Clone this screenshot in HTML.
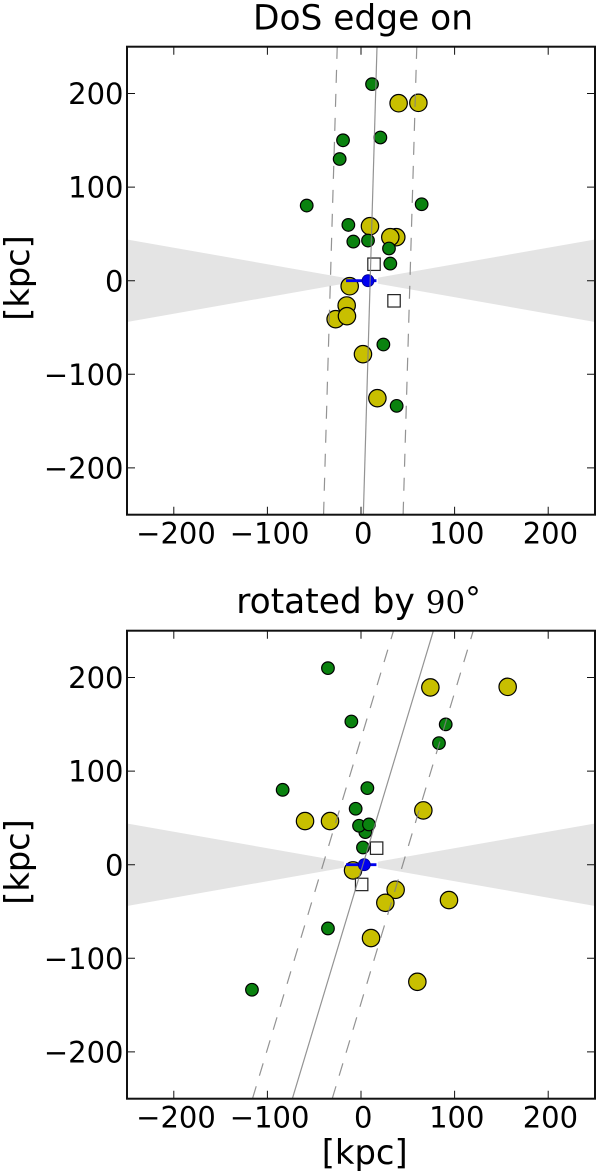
<!DOCTYPE html>
<html>
<head>
<meta charset="utf-8">
<title>DoS edge on</title>
<style>
html,body{margin:0;padding:0;background:#fff;width:600px;height:1173px;overflow:hidden}
svg{display:block}
text{font-family:"DejaVu Sans","Liberation Sans",sans-serif;fill:#000}
</style>
</head>
<body>
<svg id="chart" xmlns="http://www.w3.org/2000/svg" width="600" height="1173" viewBox="0 0 600 1173">
  <text x="363" y="29.3" font-size="34.4" text-anchor="middle">DoS edge on</text>
  <text transform="translate(29,278) rotate(-90)" font-size="33.6" text-anchor="middle">[kpc]</text>
  <text x="358.5" y="613" font-size="34.4" text-anchor="middle">rotated by <tspan font-family="'DejaVu Serif','Liberation Serif',serif" font-size="31">90</tspan><tspan font-size="31" dy="-4">°</tspan></text>
  <text transform="translate(29,862) rotate(-90)" font-size="33.6" text-anchor="middle">[kpc]</text>
  <text x="364.7" y="1164" font-size="33.8" text-anchor="middle">[kpc]</text>
</svg>
<script>
var tickValues = [-200, -100, 0, 100, 200];
var tickLabels = ["\u2212200", "\u2212100", "0", "100", "200"];
var axisRange = [-250, 250];
var wedgeAngleDeg = 10;
var wedgeInnerX = 18;

var topGreenX = [11.8, -19.2, 20.7, -22.8, -58, 64.8, -13.5, 29.9, -8.2, 7.5, 31.3, 23.9, 38.1];
var topGreenY = [210, 150, 153, 130, 80.3, 81.7, 59.6, 34.4, 41.8, 42.9, 18.3, -68.2, -133.7];
var topYellowX = [40.2, 61.3, 37.7, 31.3, 9.6, -12.1, -15.3, -27.1, -15, 2.1, 17.5];
var topYellowY = [189.6, 190, 46.5, 46.5, 58.2, -5.9, -26.5, -41.1, -37.9, -78.5, -125.5];
var topSquareX = [13.9, 35.3];
var topSquareY = [17.6, -21.5];
var topHostX = [7.5];
var topHostY = [0];
var topPlaneOffset = [9.8];
var topPlaneSlope = [0.0292];
var topPlaneHalfWidth = [42.5];

var bottomGreenX = [-35.3, -10.3, 90.5, 83.3, -83.7, 6.8, -5.7, 4.6, -2.1, 8.5, 2.1, -35.3, -116.5];
var bottomGreenY = [210, 153, 149.9, 129.9, 80, 81.8, 59.8, 34.8, 41.6, 43, 18.4, -68.1, -133.6];
var bottomYellowX = [74.1, 156.7, -59.8, -33.1, 66.6, -8.5, 37, 26, 94, 10.7, 60.2];
var bottomYellowY = [189.4, 190, 46.6, 46.6, 58, -6.1, -26.8, -40.7, -37.8, -78.4, -125.1];
var bottomSquareX = [16.7, 0.7];
var bottomSquareY = [17.7, -21.1];
var bottomHostX = [3.5];
var bottomHostY = [0];
var bottomPlaneOffset = [2];
var bottomPlaneSlope = [0.3014];
var bottomPlaneHalfWidth = [42.6];

var hostBarX = [-16, 16.5];

var svg = document.getElementById('chart');
var NS = 'http://www.w3.org/2000/svg';

function make(parent, tag, attrs) {
  var el = document.createElementNS(NS, tag);
  for (var k in attrs) { el.setAttribute(k, attrs[k]); }
  parent.appendChild(el);
  return el;
}

function drawPanel(prefix, top, d) {
  var left = 127, size = 468;
  var span = axisRange[1] - axisRange[0];
  function sx(v) { return left + (v - axisRange[0]) / span * size; }
  function sy(v) { return top + (axisRange[1] - v) / span * size; }

  var g = make(svg, 'g', {});
  
  

  var clipId = prefix + '-clip';
  var defs = make(g, 'defs', {});
  var clip = make(defs, 'clipPath', { id: clipId });
  make(clip, 'rect', { x: left, y: top, width: size, height: size });

  var plot = make(g, 'g', { 'clip-path': 'url(#' + clipId + ')' });
  
  

  var tanW = Math.tan(wedgeAngleDeg * Math.PI / 180);
  [-1, 1].forEach(function (side) {
    var edge = side < 0 ? axisRange[0] : axisRange[1];
    var inner = side * wedgeInnerX;
    var pts = [
      [sx(inner), sy(wedgeInnerX * tanW)],
      [sx(edge), sy(Math.abs(edge) * tanW)],
      [sx(edge), sy(-Math.abs(edge) * tanW)],
      [sx(inner), sy(-wedgeInnerX * tanW)]
    ].map(function (p) { return p.join(','); }).join(' ');
    var w = make(plot, 'polygon', { points: pts, fill: '#e4e4e4' });
    
    
  });

  d.yellowX.forEach(function (x, i) {
    var c = make(plot, 'circle', { cx: sx(x), cy: sy(d.yellowY[i]), r: 8.7, fill: '#c8bf00', stroke: '#000', 'stroke-width': 1.2 });
    
    
  });
  d.greenX.forEach(function (x, i) {
    var c = make(plot, 'circle', { cx: sx(x), cy: sy(d.greenY[i]), r: 6.3, fill: '#0a820f', stroke: '#000', 'stroke-width': 1.2 });
    
    
  });
  d.squareX.forEach(function (x, i) {
    var s = make(plot, 'rect', { x: sx(x) - 6.2, y: sy(d.squareY[i]) - 6.2, width: 12.4, height: 12.4, fill: '#fff', stroke: '#222', 'stroke-width': 1.2 });
    
    
  });

  var bar = make(plot, 'line', { x1: sx(hostBarX[0]), x2: sx(hostBarX[1]), y1: sy(0), y2: sy(0), stroke: '#0000ee', 'stroke-width': 2.8 });
  
  
  d.hostX.forEach(function (x, i) {
    var c = make(plot, 'circle', { cx: sx(x), cy: sy(d.hostY[i]), r: 6, fill: '#0000f0', stroke: '#00008a', 'stroke-width': 0.8 });
    
    
  });

  [-1, 0, 1].forEach(function (k) {
    var off = d.offset[0] + k * d.halfWidth[0];
    var l = make(plot, 'line', {
      x1: sx(off + d.slope[0] * axisRange[0]), y1: sy(axisRange[0]),
      x2: sx(off + d.slope[0] * axisRange[1]), y2: sy(axisRange[1]),
      stroke: '#808080', 'stroke-width': 1.2, 'stroke-opacity': 0.85
    });
    if (k !== 0) { l.setAttribute('stroke-dasharray', '13 11'); }
    
    
  });

  tickValues.forEach(function (v, i) {
    var tl = 8;
    var attrs = { stroke: '#111', 'stroke-width': 1 };
    var t1 = make(g, 'path', Object.assign({ d: 'M' + sx(v) + ' ' + (top + size) + 'v' + (-tl) + 'M' + sx(v) + ' ' + top + 'v' + tl }, attrs));
    
    
    var t2 = make(g, 'path', Object.assign({ d: 'M' + left + ' ' + sy(v) + 'h' + tl + 'M' + (left + size) + ' ' + sy(v) + 'h' + (-tl) }, attrs));
    
    

    var xl = make(g, 'text', { x: sx(v) + 2.2, y: top + size + 29, 'font-size': 29, 'text-anchor': 'middle' });
    xl.textContent = tickLabels[i];
    
    
    var yl = make(g, 'text', { x: left - 3.5, y: sy(v) + 10.6, 'font-size': 29, 'text-anchor': 'end' });
    yl.textContent = tickLabels[i];
    
    
  });

  var frame = make(g, 'rect', { x: left, y: top, width: size, height: size, fill: 'none', stroke: '#111', 'stroke-width': 2 });
  
  
}

drawPanel('top', 46.7, {
  greenX: topGreenX, greenY: topGreenY,
  yellowX: topYellowX, yellowY: topYellowY,
  squareX: topSquareX, squareY: topSquareY,
  hostX: topHostX, hostY: topHostY,
  offset: topPlaneOffset, slope: topPlaneSlope, halfWidth: topPlaneHalfWidth
});
drawPanel('bottom', 630.7, {
  greenX: bottomGreenX, greenY: bottomGreenY,
  yellowX: bottomYellowX, yellowY: bottomYellowY,
  squareX: bottomSquareX, squareY: bottomSquareY,
  hostX: bottomHostX, hostY: bottomHostY,
  offset: bottomPlaneOffset, slope: bottomPlaneSlope, halfWidth: bottomPlaneHalfWidth
});
</script>
</body>
</html>
